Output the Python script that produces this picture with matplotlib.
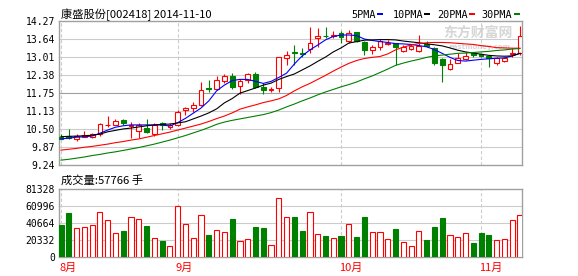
import matplotlib
matplotlib.use('Agg')
import matplotlib.pyplot as plt
from matplotlib.patches import Rectangle

# ---------------- data ----------------
opens = [10.23, 10.25, 10.16, 10.23, 10.23, 10.32, 10.62, 10.65, 10.80, 10.60,
         10.43, 10.52, 10.31, 10.70, 10.56, 10.64, 11.16, 11.22, 11.33, 11.94,
         11.88, 12.18, 12.35, 12.01, 12.21, 12.42, 11.98, 11.86, 11.93, 12.97,
         13.17, 13.14, 13.28, 13.68, 13.76, 13.76, 13.84, 13.58, 13.90, 13.55,
         13.26, 13.35, 13.48, 13.49, 13.23, 13.28, 13.23, 13.45, 13.32, 12.93,
         12.59, 12.81, 12.93, 13.14, 13.10, 13.03, 12.79, 12.86, 13.10, 13.14]
highs = [10.31, 10.50, 10.31, 10.44, 10.37, 10.70, 10.96, 10.84, 10.86, 10.74,
         10.70, 10.84, 10.70, 10.73, 10.70, 11.16, 11.28, 11.45, 12.15, 12.21,
         12.35, 12.42, 12.44, 12.23, 12.44, 12.48, 12.09, 11.96, 13.02, 13.23,
         13.43, 13.32, 14.05, 14.01, 14.07, 13.93, 13.93, 13.96, 13.90, 13.58,
         13.43, 13.63, 13.62, 13.51, 13.43, 13.45, 13.79, 13.58, 13.37, 12.97,
         12.93, 13.14, 13.20, 13.20, 13.12, 13.05, 13.02, 13.02, 13.32, 14.10]
lows = [10.14, 10.15, 10.09, 10.21, 10.17, 10.25, 10.58, 10.63, 10.65, 10.20,
        10.17, 10.35, 10.25, 10.48, 10.50, 10.60, 10.99, 11.10, 11.30, 11.80,
        11.86, 12.12, 11.88, 11.72, 12.10, 11.94, 11.72, 11.80, 11.80, 12.73,
        12.73, 13.00, 13.14, 13.37, 13.66, 13.66, 13.49, 13.49, 13.53, 13.08,
        13.12, 13.26, 13.42, 12.73, 13.20, 13.25, 13.20, 13.37, 12.72, 12.15,
        12.56, 12.79, 12.91, 13.02, 13.00, 12.67, 12.73, 12.83, 13.02, 13.08]
closes = [10.16, 10.19, 10.27, 10.28, 10.31, 10.67, 10.64, 10.77, 10.70, 10.63,
          10.64, 10.40, 10.64, 10.64, 10.64, 11.08, 11.22, 11.33, 11.86, 11.90,
          12.21, 12.35, 11.98, 12.17, 12.41, 11.98, 11.86, 11.90, 13.00, 13.08,
          13.14, 13.11, 13.51, 13.75, 13.74, 13.79, 13.70, 13.86, 13.58, 13.26,
          13.35, 13.58, 13.51, 13.37, 13.37, 13.40, 13.40, 13.40, 12.79, 12.72,
          12.77, 12.97, 13.05, 13.07, 13.05, 12.98, 12.97, 12.97, 13.14, 13.75]
volumes = [38460, 52880, 34850, 36050, 38060, 54080, 44470, 28840, 31250, 47670,
           45670, 37260, 22430, 19230, 13220, 60890, 39260, 22430, 50080, 26440,
           32050, 30050, 45670, 18830, 21230, 36050, 34850, 14020, 70510, 47670,
           48070, 31250, 54080, 27240, 25240, 22830, 25240, 39660, 24040, 48070,
           29640, 29640, 21630, 33650, 18030, 13220, 30850, 20430, 36050, 46870,
           26040, 24040, 28440, 16830, 28840, 26440, 20430, 21630, 44070, 50080]

ma5 = [10.15, 10.18, 10.21, 10.23, 10.25, 10.35, 10.46, 10.56, 10.61, 10.64,
       10.64, 10.64, 10.64, 10.64, 10.60, 10.72, 10.87, 11.05, 11.23, 11.48,
       11.83, 12.03, 12.19, 12.23, 12.23, 12.16, 12.09, 12.16, 12.30, 12.45,
       12.77, 13.05, 13.26, 13.43, 13.61, 13.73, 13.78, 13.78, 13.76, 13.64,
       13.59, 13.55, 13.52, 13.48, 13.47, 13.45, 13.41, 13.37, 13.27, 13.14,
       13.00, 12.89, 12.87, 12.90, 12.93, 12.95, 12.97, 12.98, 13.05, 13.14]
ma10 = [10.23, 10.24, 10.25, 10.26, 10.28, 10.32, 10.40, 10.45, 10.50, 10.53,
        10.57, 10.61, 10.64, 10.66, 10.67, 10.71, 10.75, 10.85, 10.95, 11.06,
        11.20, 11.41, 11.56, 11.75, 11.84, 11.93, 12.03, 12.10, 12.23, 12.33,
        12.42, 12.56, 12.70, 12.86, 13.01, 13.19, 13.33, 13.50, 13.55, 13.60,
        13.61, 13.62, 13.62, 13.61, 13.57, 13.54, 13.51, 13.47, 13.44, 13.40,
        13.33, 13.25, 13.19, 13.15, 13.11, 13.07, 13.05, 13.04, 13.05, 13.14]
ma20 = [9.76, 9.79, 9.82, 9.86, 9.89, 9.93, 9.97, 10.02, 10.06, 10.11,
        10.15, 10.21, 10.27, 10.33, 10.39, 10.46, 10.53, 10.60, 10.67, 10.76,
        10.86, 10.95, 11.06, 11.19, 11.27, 11.34, 11.42, 11.48, 11.55, 11.67,
        11.83, 11.97, 12.09, 12.23, 12.37, 12.52, 12.66, 12.79, 12.89, 12.96,
        13.00, 13.03, 13.12, 13.26, 13.36, 13.43, 13.48, 13.51, 13.52, 13.52,
        13.51, 13.49, 13.47, 13.45, 13.41, 13.38, 13.34, 13.33, 13.32, 13.32]
ma30 = [9.41, 9.44, 9.48, 9.52, 9.57, 9.61, 9.66, 9.70, 9.75, 9.80,
        9.85, 9.91, 9.97, 10.04, 10.11, 10.19, 10.27, 10.36, 10.45, 10.55,
        10.66, 10.74, 10.80, 10.85, 10.90, 10.95, 11.00, 11.07, 11.16, 11.27,
        11.37, 11.48, 11.58, 11.69, 11.79, 11.88, 11.97, 12.05, 12.14, 12.25,
        12.35, 12.47, 12.59, 12.72, 12.80, 12.87, 12.93, 13.00, 13.05, 13.08,
        13.11, 13.14, 13.15, 13.17, 13.19, 13.21, 13.24, 13.26, 13.29, 13.31]

price_ticks = [9.24, 9.87, 10.50, 11.13, 11.75, 12.38, 13.01, 13.64, 14.27]
price_labels = ['9.24', '9.87', '10.50', '11.13', '11.75', '12.38', '13.01', '13.64', '14.27']
vol_ticks = [0, 20332, 40664, 60996, 81328]
vol_labels = ['0', '20332', '40664', '60996', '81328']
month_idx = [0, 15, 36, 54]
month_labels = ['8月', '9月', '10月', '11月']

title = '康盛股份[002418] 2014-11-10'
vol_title = '成交量:57766 手'
legend_names = ['5PMA', '10PMA', '20PMA', '30PMA']

# ---------------- style ----------------
RED = '#ff0000'
GREEN = '#008000'
SPINE = '#a0a0a0'
GRID = '#cccccc'
CJK = ['Noto Sans CJK SC', 'DejaVu Sans']
MONO = 'DejaVu Sans Mono'

W, H = 578, 276
fig = plt.figure(figsize=(W / 100, H / 100), dpi=100)
fig.patch.set_facecolor('white')


def fr(x0, y0, x1, y1):
    return [x0 / W, 1 - y1 / H, (x1 - x0) / W, (y1 - y0) / H]


axp = fig.add_axes(fr(59, 21, 522, 165))
axv = fig.add_axes(fr(59, 189, 522, 257))

n = len(closes)
for ax in (axp, axv):
    ax.set_xlim(-0.26, n - 0.74)
    for s in ax.spines.values():
        s.set_color(SPINE)
        s.set_linewidth(1.0)
    ax.tick_params(axis='both', length=0, pad=3, labelsize=7, colors='black')
    ax.set_xticks([])
    for m in month_idx:
        ax.axvline(m, color=GRID, lw=0.8, ls=(0, (3, 2)), zorder=0)

# price panel
axp.set_ylim(price_ticks[0], price_ticks[-1])
axp.set_yticks(price_ticks)
axp.set_yticklabels(price_labels, family=MONO, fontsize=7)
for k, t in enumerate(price_ticks[1:-1], start=1):
    axp.axhline(t, color=SPINE if k == 4 else GRID, lw=0.8, zorder=0)

# watermark (behind the marks)
fig.text(443 / W, 1 - 32.5 / H, '东方财富网', family=CJK, fontsize=10,
         fontweight='bold', color='#d6d6d6', ha='left', va='center', zorder=0.5)
fig.text(480 / W, 1 - 46.5 / H, 'eastmoney.com', family='DejaVu Sans', fontsize=5,
         fontweight='bold', color='#d6d6d6', ha='center', va='center', zorder=0.5)
axp.set_zorder(1)
axp.patch.set_alpha(0)

bw = 0.62
for i in range(n):
    o, h, l, c = opens[i], highs[i], lows[i], closes[i]
    up = c >= o
    col = RED if up else GREEN
    axp.vlines(i, l, h, color=col, lw=0.8, zorder=2)
    bottom = min(o, c)
    height = max(abs(c - o), 0.004)
    axp.add_patch(Rectangle((i - bw / 2, bottom), bw, height,
                            facecolor='white' if up else GREEN,
                            edgecolor=col, lw=0.8, zorder=3))

xs = list(range(n))
axp.plot(xs, ma5, color='#0000ff', lw=0.8, zorder=4)
axp.plot(xs, ma10, color='black', lw=0.8, zorder=4)
axp.plot(xs, ma20, color=RED, lw=0.8, zorder=4)
axp.plot(xs, ma30, color=GREEN, lw=0.8, zorder=4)

# volume panel
axv.set_ylim(0, vol_ticks[-1])
axv.set_yticks(vol_ticks)
axv.set_yticklabels(vol_labels, family=MONO, fontsize=7)
for t in vol_ticks[1:-1]:
    axv.axhline(t, color=GRID, lw=0.8, zorder=0)
for i in range(n):
    up = closes[i] >= opens[i]
    col = RED if up else GREEN
    axv.bar(i, volumes[i], width=0.66, facecolor='white' if up else GREEN,
            edgecolor=col, lw=0.8, zorder=3)

for m, lab in zip(month_idx, month_labels):
    axv.annotate(lab, xy=(m, 0), xycoords=('data', 'axes fraction'),
                 xytext=(-2, -11), textcoords='offset pixels', ha='left',
                 va='center', color=RED, family=CJK, fontsize=8)

# titles
fig.text(61 / W, 1 - 14.5 / H, title, family=CJK, fontsize=8.1,
         ha='left', va='center', color='black')
fig.text(61 / W, 1 - 180 / H, vol_title, family=CJK, fontsize=8.1,
         ha='left', va='center', color='black')

# legend
leg_x = [351.7, 392.7, 436.7, 481.7]
dash_x = [377.3, 424.3, 469.3, 514.0]
leg_cols = ['#0000ff', 'black', RED, GREEN]
for name, tx, dx, cc in zip(legend_names, leg_x, dash_x, leg_cols):
    fig.text(tx / W, 1 - 14.5 / H, name, family=MONO, fontsize=7.3,
             ha='left', va='center', color='black')
    fig.add_artist(Rectangle((dx / W, 1 - 15 / H), 5.5 / W, 2.2 / H,
                             transform=fig.transFigure, facecolor=cc,
                             edgecolor='none'))

fig.savefig('out.png', dpi=100, facecolor='white')
